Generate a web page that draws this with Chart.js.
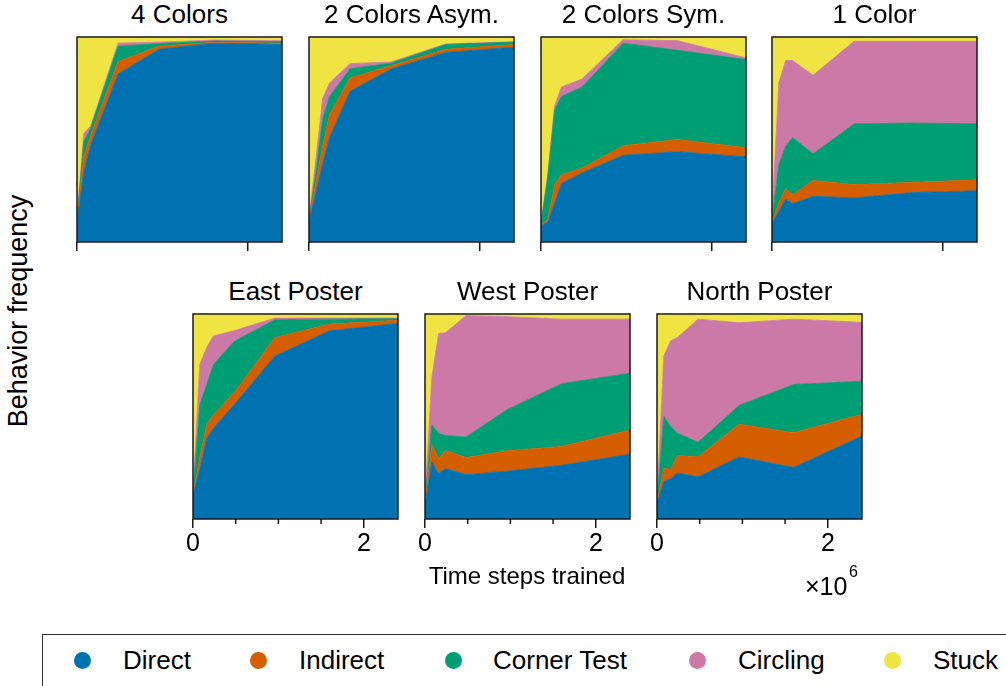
<!DOCTYPE html>
<html>
<head>
<meta charset="utf-8">
<script src="https://cdn.jsdelivr.net/npm/chart.js@4/dist/chart.umd.min.js"></script>
<style>
  html, body { margin:0; padding:0; background:#fff; }
  body { width:1006px; height:686px; position:relative; overflow:hidden; font-family:"Liberation Sans", Arial, sans-serif; color:#000; }
  canvas.cv { position:absolute; }
  .txt { position:absolute; white-space:nowrap; line-height:1; }
  .title { font-size:26px; text-align:center; width:260px; }
  .legend { position:absolute; left:42px; top:634px; width:1100px; height:100px; border:1px solid #333; box-sizing:border-box; }
  .dot { position:absolute; width:17px; height:17px; border-radius:50%; }
</style>
</head>
<body>
<script>
// ---------------- data ----------------
const timeSteps = [0, 80000, 160000, 240000, 480000, 960000, 1600000, 2400000];
const panelTitles = ["4 Colors", "2 Colors Asym.", "2 Colors Sym.", "1 Color", "East Poster", "West Poster", "North Poster"];
const behaviors = ["Direct", "Indirect", "Corner Test", "Circling", "Stuck"];
const behaviorColors = ["#0072B2", "#D55E00", "#009E73", "#CC79A7", "#F0E442"];
const majorTicks = [0, 2000000];
const majorTickLabels = ["0", "2"];
const minorTicks = [500000, 1000000, 1500000];

// one row per panel (same order as panelTitles), one value per time step
const direct = [
  [0.100, 0.340, 0.475, 0.560, 0.820, 0.940, 0.970, 0.963],
  [0.100, 0.240, 0.380, 0.510, 0.735, 0.844, 0.925, 0.950],
  [0.080, 0.096, 0.190, 0.285, 0.337, 0.423, 0.440, 0.415],
  [0.093, 0.150, 0.210, 0.187, 0.223, 0.215, 0.240, 0.250],
  [0.115, 0.246, 0.393, 0.443, 0.557, 0.795, 0.918, 0.954],
  [0.066, 0.279, 0.221, 0.246, 0.216, 0.233, 0.262, 0.316],
  [0.074, 0.184, 0.197, 0.225, 0.205, 0.303, 0.251, 0.405]
];
const indirect = [
  [0.005, 0.080, 0.045, 0.050, 0.060, 0.015, 0.005, 0.007],
  [0.005, 0.050, 0.090, 0.110, 0.065, 0.016, 0.015, 0.013],
  [0.005, 0.014, 0.090, 0.043, 0.023, 0.047, 0.060, 0.045],
  [0.007, 0.040, 0.050, 0.043, 0.077, 0.065, 0.050, 0.054],
  [0.005, 0.054, 0.066, 0.065, 0.058, 0.090, 0.033, 0.016],
  [0.014, 0.085, 0.071, 0.088, 0.084, 0.100, 0.092, 0.118],
  [0.006, 0.065, 0.044, 0.086, 0.098, 0.159, 0.170, 0.106]
];
const cornerTest = [
  [0.005, 0.070, 0.035, 0.045, 0.075, 0.013, 0.005, 0.008],
  [0.005, 0.050, 0.130, 0.090, 0.045, 0.012, 0.023, 0.012],
  [0.005, 0.210, 0.365, 0.382, 0.396, 0.500, 0.435, 0.430],
  [0.010, 0.187, 0.207, 0.280, 0.130, 0.296, 0.290, 0.273],
  [0.005, 0.257, 0.197, 0.246, 0.251, 0.087, 0.024, 0.007],
  [0.010, 0.095, 0.126, 0.073, 0.100, 0.200, 0.306, 0.277],
  [0.005, 0.251, 0.210, 0.107, 0.071, 0.092, 0.235, 0.161]
];
const circling = [
  [0.005, 0.040, 0.010, 0.010, 0.015, 0.007, 0.005, 0.004],
  [0.005, 0.060, 0.100, 0.065, 0.025, 0.006, 0.003, 0.002],
  [0.000, 0.010, 0.020, 0.046, 0.039, 0.017, 0.047, 0.008],
  [0.015, 0.399, 0.418, 0.375, 0.383, 0.403, 0.399, 0.402],
  [0.005, 0.197, 0.180, 0.139, 0.052, 0.008, 0.005, 0.003],
  [0.010, 0.230, 0.487, 0.501, 0.592, 0.454, 0.315, 0.264],
  [0.005, 0.295, 0.418, 0.467, 0.601, 0.403, 0.319, 0.287]
];
const stuck = [
  [0.885, 0.470, 0.435, 0.335, 0.030, 0.025, 0.015, 0.018],
  [0.885, 0.600, 0.300, 0.225, 0.130, 0.122, 0.034, 0.023],
  [0.910, 0.670, 0.335, 0.244, 0.205, 0.013, 0.018, 0.102],
  [0.875, 0.224, 0.115, 0.115, 0.187, 0.021, 0.021, 0.021],
  [0.870, 0.246, 0.164, 0.107, 0.082, 0.020, 0.020, 0.020],
  [0.900, 0.311, 0.095, 0.092, 0.008, 0.013, 0.025, 0.025],
  [0.910, 0.205, 0.131, 0.115, 0.025, 0.043, 0.025, 0.041]
];
const seriesByBehavior = [direct, indirect, cornerTest, circling, stuck];

// ---------------- layout ----------------
const PANEL = 205;
const panelBoxes = [
  {left:77,  top:37,  bottomRow:false},
  {left:309, top:37,  bottomRow:false},
  {left:541, top:37,  bottomRow:false},
  {left:772, top:37,  bottomRow:false},
  {left:193, top:314, bottomRow:true},
  {left:425, top:314, bottomRow:true},
  {left:657, top:314, bottomRow:true}
];
const PADX = 20, PADTOP = 5;

const framePlugin = {
  id: 'frameAndMinor',
  afterDraw(chart, args, opts) {
    const {ctx, chartArea} = chart;
    const xs = chart.scales.x;
    ctx.save();
    ctx.strokeStyle = '#1a1a1a';
    ctx.lineWidth = 1.5;
    if (opts.minor) {
      ctx.beginPath();
      opts.minor.forEach(v => {
        const px = xs.getPixelForValue(v);
        ctx.moveTo(px, chartArea.bottom);
        ctx.lineTo(px, chartArea.bottom + 5);
      });
      ctx.stroke();
    }
    ctx.strokeRect(chartArea.left, chartArea.top, chartArea.right - chartArea.left, chartArea.bottom - chartArea.top);
    ctx.restore();
  }
};

panelBoxes.forEach((box, p) => {
  const axisH = box.bottomRow ? 45 : 12;
  const cv = document.createElement('canvas');
  cv.className = 'cv';
  const W = PANEL + 2 * PADX, H = PADTOP + PANEL + axisH;
  cv.width = W; cv.height = H;
  cv.style.width = W + 'px'; cv.style.height = H + 'px';
  cv.style.left = (box.left - PADX) + 'px';
  cv.style.top = (box.top - PADTOP) + 'px';
  document.body.appendChild(cv);

  const datasets = behaviors.map((name, b) => ({
    label: name,
    data: timeSteps.map((t, i) => ({x: t, y: seriesByBehavior[b][p][i]})),
    backgroundColor: behaviorColors[b],
    borderColor: behaviorColors[b],
    borderWidth: 0.8,
    pointRadius: 0,
    tension: 0,
    fill: b === 0 ? 'origin' : '-1'
  }));

  new Chart(cv, {
    type: 'line',
    data: { datasets },
    options: {
      responsive: false,
      animation: false,
      devicePixelRatio: 1,
      events: [],
      layout: { padding: { left: PADX, right: PADX, top: PADTOP, bottom: 0 } },
      plugins: {
        legend: { display: false },
        tooltip: { enabled: false },
        title: { display: false },
        frameAndMinor: { minor: box.bottomRow ? minorTicks : null }
      },
      scales: {
        x: {
          type: 'linear',
          min: timeSteps[0],
          max: timeSteps[timeSteps.length - 1],
          border: { display: false },
          grid: { display: true, drawOnChartArea: false, drawTicks: true, tickLength: 9, color: '#1a1a1a', lineWidth: 1.5 },
          ticks: {
            display: true,
            padding: 1,
            maxRotation: 0,
            autoSkip: false,
            color: '#000',
            font: { family: 'Liberation Sans', size: 25 },
            callback: (v) => {
              if (!box.bottomRow) return '';
              const k = majorTicks.indexOf(v);
              return k >= 0 ? majorTickLabels[k] : '';
            }
          },
          afterBuildTicks: (s) => { s.ticks = majorTicks.map(v => ({ value: v })); },
          afterFit: (s) => { s.height = axisH; }
        },
        y: { display: false, stacked: true, min: 0, max: 1 }
      }
    },
    plugins: [framePlugin]
  });

  const t = document.createElement('div');
  t.className = 'txt title';
  t.textContent = panelTitles[p];
  t.style.left = (box.left + PANEL / 2 - 130) + 'px';
  t.style.top = (box.top - 36.3) + 'px';
  document.body.appendChild(t);
});

// shared labels
function addText(str, css) {
  const d = document.createElement('div');
  d.className = 'txt';
  d.textContent = str;
  Object.assign(d.style, css);
  document.body.appendChild(d);
  return d;
}
addText('Behavior frequency', { left: (17.6 - 150) + 'px', top: (311 - 15) + 'px', width: '300px', height: '30px', lineHeight: '30px', textAlign: 'center', fontSize: '27px', transform: 'rotate(-90deg)' });
addText('Time steps trained', { left: (527 - 150) + 'px', top: '564px', width: '300px', textAlign: 'center', fontSize: '24px' });
addText('×10', { left: '805px', top: '574px', fontSize: '25px' });
addText('6', { left: '849px', top: '564px', fontSize: '16px' });

// legend
const lg = document.createElement('div');
lg.className = 'legend';
document.body.appendChild(lg);
const dotX = [82, 258, 453, 697, 892];
const textX = [123, 299, 493, 738, 933];
behaviors.forEach((name, b) => {
  const d = document.createElement('div');
  d.className = 'dot';
  d.style.background = behaviorColors[b];
  d.style.left = (dotX[b] - 8.5) + 'px';
  d.style.top = (660 - 8.5) + 'px';
  document.body.appendChild(d);
  addText(name, { left: textX[b] + 'px', top: '647px', fontSize: '26px' });
});
</script>
</body>
</html>
